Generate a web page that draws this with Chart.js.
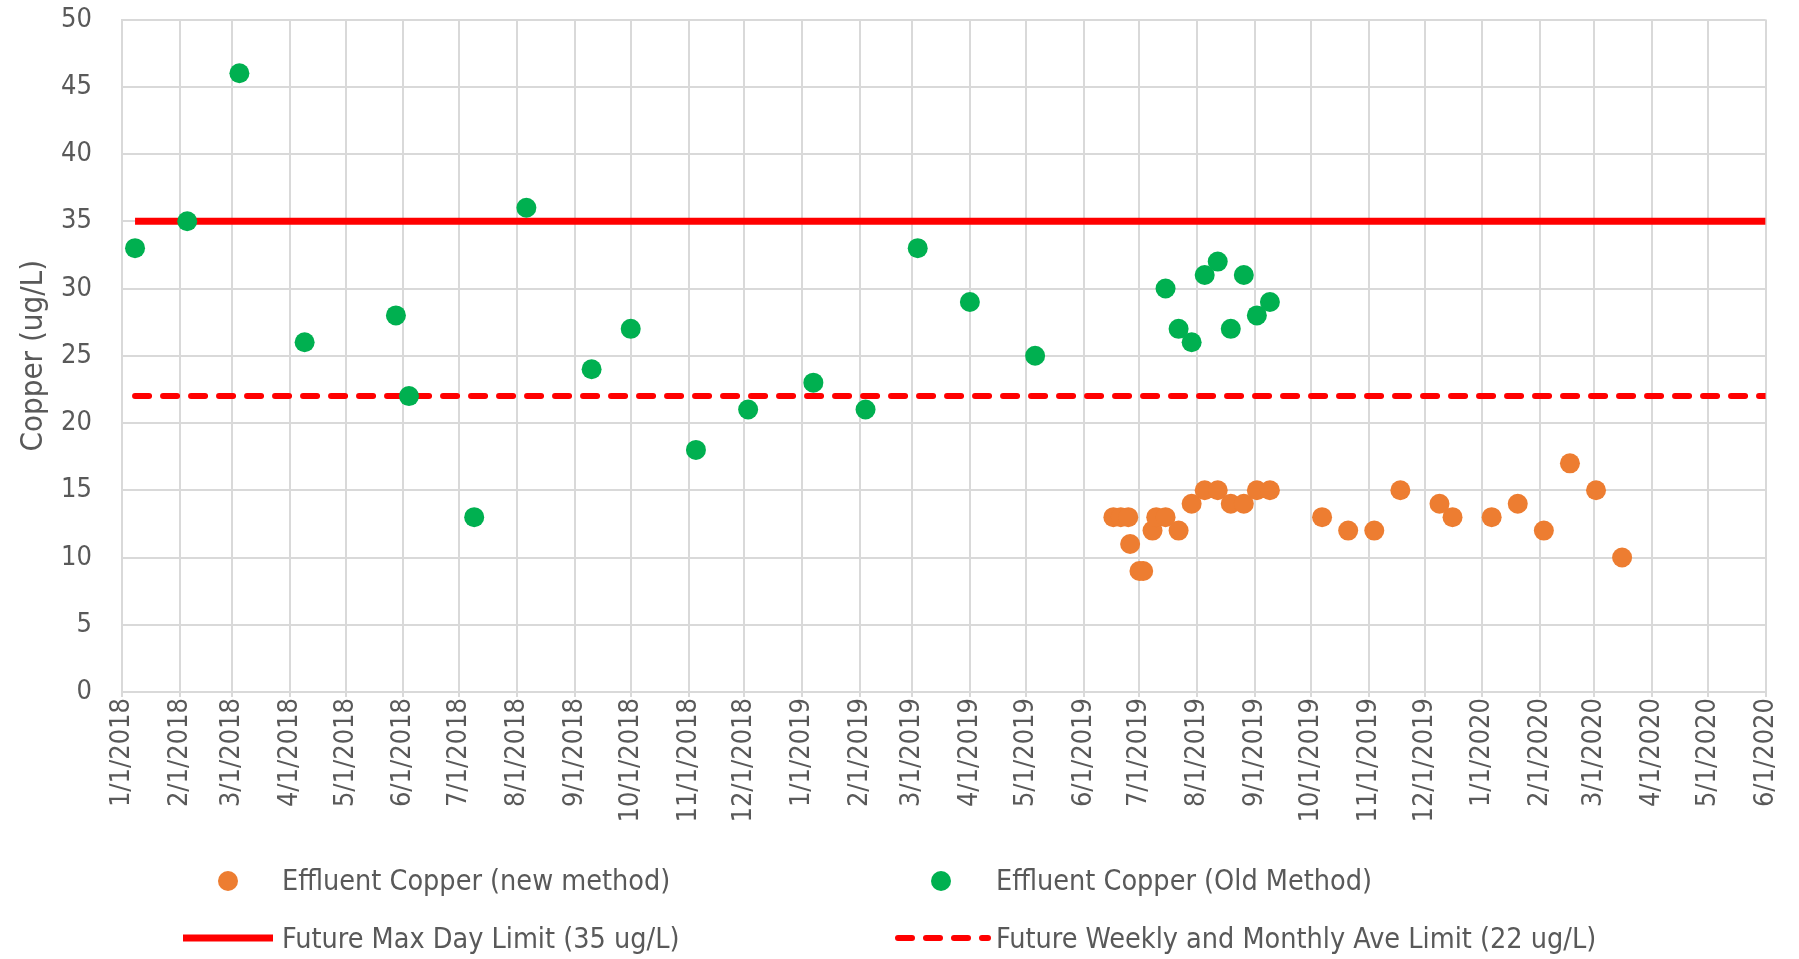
<!DOCTYPE html>
<html>
<head>
<meta charset="utf-8">
<script src="https://cdn.jsdelivr.net/npm/chart.js@4.4.1/dist/chart.umd.min.js"></script>
<style>
  html, body { margin: 0; padding: 0; background: #fff; }
  #wrap { width: 1799px; height: 959px; }
</style>
</head>
<body>
<div id="wrap"><canvas id="copperChart" width="1799" height="959"></canvas></div>
<script>
// sample dates and results (ug/L)
var oldMethodDates = ['2018-01-08', '2018-02-05', '2018-03-05', '2018-04-09', '2018-05-28', '2018-06-04',
    '2018-07-09', '2018-08-06', '2018-09-10', '2018-10-01', '2018-11-05', '2018-12-03',
    '2019-01-07', '2019-02-04', '2019-03-04', '2019-04-01', '2019-05-06',
    '2019-07-15', '2019-07-22', '2019-07-29', '2019-08-05', '2019-08-12', '2019-08-19',
    '2019-08-26', '2019-09-02', '2019-09-09'];
var oldMethodValues = [33, 35, 46, 26, 28, 22, 13, 36, 24, 27, 18, 21, 23, 21, 33, 29, 25,
    30, 27, 26, 31, 32, 27, 31, 28, 29];

var newMethodDates = ['2019-06-17', '2019-06-21', '2019-06-25', '2019-06-26', '2019-07-01', '2019-07-03',
    '2019-07-08', '2019-07-10', '2019-07-15', '2019-07-22', '2019-07-29', '2019-08-05',
    '2019-08-12', '2019-08-19', '2019-08-26', '2019-09-02', '2019-09-09', '2019-10-07',
    '2019-10-21', '2019-11-04', '2019-11-18', '2019-12-09', '2019-12-16', '2020-01-06',
    '2020-01-20', '2020-02-03', '2020-02-17', '2020-03-02', '2020-03-16'];
var newMethodValues = [13, 13, 13, 11, 9, 9, 12, 13, 13, 12, 14, 15, 15, 14, 14, 15, 15, 13,
    12, 12, 15, 14, 13, 13, 14, 12, 17, 15, 10];

var maxDayLimit = 35;
var aveLimit = 22;
var limitDates = ['2018-01-08', '2020-06-01'];

var axisStart = '2018-01-01';
var axisEnd = '2020-06-01';

var fontFamily = "'DejaVu Sans Condensed', 'Liberation Sans', sans-serif";
var textColor = '#595959';
var gridColor = '#D9D9D9';

function dayOf(s) {
    var p = s.split('-');
    return (Date.UTC(+p[0], +p[1] - 1, +p[2]) - Date.UTC(2018, 0, 1)) / 86400000;
}
function points(dates, values) {
    return dates.map(function (d, i) { return { x: dayOf(d), y: values[i] }; });
}

// month start gridlines / labels
var monthTicks = [];
var monthLabels = {};
for (var yr = 2018; yr <= 2020; yr++) {
    for (var mo = 1; mo <= 12; mo++) {
        var iso = yr + '-' + (mo < 10 ? '0' : '') + mo + '-01';
        if (dayOf(iso) > dayOf(axisEnd)) break;
        monthTicks.push(dayOf(iso));
        monthLabels[dayOf(iso)] = mo + '/1/' + yr;
    }
}

var legendPlugin = {
    id: 'gridLegend',
    afterDraw: function (chart) {
        var c = chart.ctx;
        c.save();
        c.font = '28.5px ' + fontFamily;
        c.textBaseline = 'middle';
        c.textAlign = 'left';

        c.beginPath();
        c.fillStyle = '#ED7D31';
        c.arc(228, 881, 10, 0, Math.PI * 2);
        c.fill();
        c.beginPath();
        c.fillStyle = '#00B050';
        c.arc(941, 881, 10, 0, Math.PI * 2);
        c.fill();

        c.strokeStyle = '#FF0000';
        c.lineWidth = 7;
        c.beginPath();
        c.moveTo(183, 938);
        c.lineTo(273, 938);
        c.stroke();

        c.lineWidth = 6;
        c.lineCap = 'round';
        c.setLineDash([14, 14]);
        c.beginPath();
        c.moveTo(898, 938);
        c.lineTo(988, 938);
        c.stroke();
        c.setLineDash([]);

        c.fillStyle = textColor;
        c.fillText(chart.data.datasets[0].label, 282, 883);
        c.fillText(chart.data.datasets[1].label, 996, 883);
        c.fillText(chart.data.datasets[2].label, 282, 941);
        c.fillText(chart.data.datasets[3].label, 996, 941);
        c.restore();
    }
};

var ctx = document.getElementById('copperChart');

var copperChart = new Chart(ctx, {
    type: 'scatter',
    data: {
        datasets: [{
            label: 'Effluent Copper (new method)',
            data: points(newMethodDates, newMethodValues),
            backgroundColor: '#ED7D31',
            borderColor: '#ED7D31',
            pointRadius: 10,
            borderWidth: 0,
            order: 1
        }, {
            label: 'Effluent Copper (Old Method)',
            data: points(oldMethodDates, oldMethodValues),
            backgroundColor: '#00B050',
            borderColor: '#00B050',
            pointRadius: 10,
            borderWidth: 0,
            order: 2
        }, {
            label: 'Future Max Day Limit (35 ug/L)',
            data: points(limitDates, [maxDayLimit, maxDayLimit]),
            showLine: true,
            borderColor: '#FF0000',
            borderWidth: 7,
            pointRadius: 0,
            order: 3
        }, {
            label: 'Future Weekly and Monthly Ave Limit (22 ug/L)',
            data: points(limitDates, [aveLimit, aveLimit]),
            showLine: true,
            borderColor: '#FF0000',
            borderWidth: 6,
            borderDash: [14, 14],
            borderCapStyle: 'round',
            pointRadius: 0,
            order: 4
        }]
    },
    options: {
        responsive: false,
        maintainAspectRatio: false,
        animation: false,
        layout: {
            padding: { left: 11, right: 14, top: 0, bottom: 135 }
        },
        plugins: {
            legend: { display: false },
            tooltip: { enabled: false }
        },
        scales: {
            x: {
                type: 'linear',
                min: dayOf(axisStart),
                max: dayOf(axisEnd),
                afterBuildTicks: function (scale) {
                    scale.ticks = monthTicks.map(function (v) { return { value: v }; });
                },
                afterFit: function (scale) { scale.height = 132; },
                grid: {
                    color: gridColor,
                    lineWidth: 2,
                    tickLength: 5,
                    tickColor: gridColor
                },
                border: { color: gridColor, width: 2 },
                ticks: {
                    autoSkip: false,
                    minRotation: 90,
                    maxRotation: 90,
                    padding: 1,
                    color: textColor,
                    font: { size: 27, family: fontFamily },
                    callback: function (value) { return monthLabels[value] || ''; }
                }
            },
            y: {
                min: 0,
                max: 50,
                afterFit: function (scale) {
                    scale.width = 111;
                    scale.paddingTop = 19.5;
                    scale.paddingBottom = 0;
                },
                grid: {
                    color: gridColor,
                    lineWidth: 2,
                    drawTicks: false
                },
                border: { color: gridColor, width: 2 },
                ticks: {
                    stepSize: 5,
                    padding: 30,
                    color: textColor,
                    font: { size: 27, family: fontFamily }
                },
                title: {
                    display: true,
                    text: 'Copper (ug/L)',
                    color: textColor,
                    font: { size: 31, family: fontFamily }
                }
            }
        }
    },
    plugins: [legendPlugin]
});
</script>
</body>
</html>
